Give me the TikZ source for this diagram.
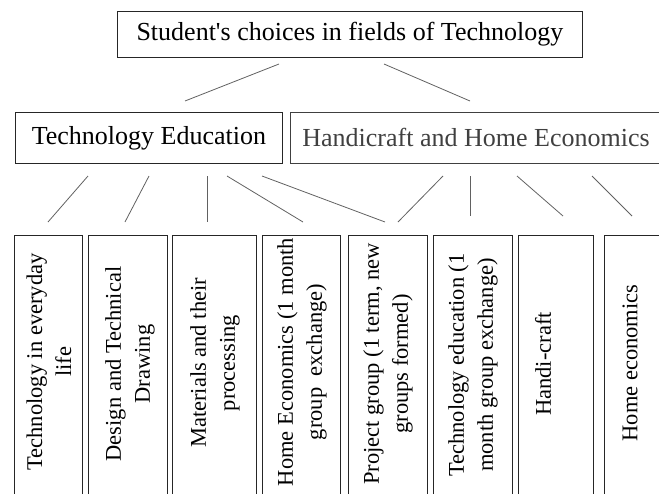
\documentclass[tikz,border=0pt]{standalone}
\usepackage{fontspec}
\setmainfont{Liberation Serif}
\begin{document}
\begin{tikzpicture}[x=1pt,y=-1pt,
  box/.style={draw=black!85, line width=0.8pt, inner sep=0pt, anchor=north west},
  head/.style={font=\fontsize{26}{30}\selectfont},
  cell/.style={box, minimum height=290pt},
  vlabel/.style={rotate=90, align=center, inner sep=0pt,
                 font=\fontsize{22.5}{29}\selectfont},
  link/.style={draw=black!62, line width=0.8pt}]
\useasboundingbox (0,0) rectangle (659,493);
\clip (0,0) rectangle (659,493);

% top level
\node[box, head, minimum width=465pt, minimum height=46pt] (root) at (117,11)
  {Student\textquotesingle s choices in fields of Technology};

% second level
\node[box, head, minimum width=267pt, minimum height=51pt] (te) at (15,112)
  {Technology Education};
\node[box, draw=black!75, minimum width=390pt, minimum height=51pt] (hhe) at (290,112) {};
\node[head, text=black!75] (hhelabel) at (476,137.5) {Handicraft and Home Economics};

% third level boxes
\node[cell, minimum width=68pt] (b1) at (14,235) {};
\node[cell, minimum width=79pt] (b2) at (88,235) {};
\node[cell, minimum width=84pt] (b3) at (172,235) {};
\node[cell, minimum width=78pt] (b4) at (262,235) {};
\node[cell, minimum width=79pt] (b5) at (348,235) {};
\node[cell, minimum width=79pt] (b6) at (433,235) {};
\node[cell, minimum width=75pt] (b7) at (518,235) {};
\node[cell, minimum width=80pt] (b8) at (604,235) {};

% third level labels
\node[vlabel] (t1) at (49,362)  {Technology in everyday\\life};
\node[vlabel] (t2) at (130,364) {Design and Technical\\Drawing};
\node[vlabel] (t3) at (215,363) {Materials and their\\processing};
\node[vlabel] (t4) at (302,362) {Home Economics (1 month\\group~~exchange)};
\node[vlabel] (t5) at (388,364) {Project group (1 term, new\\groups formed)};
\node[vlabel] (t6) at (473,365) {Technology education (1\\month group exchange)};
\node[vlabel] (t7) at (543,364) {Handi-craft};
\node[vlabel] (t8) at (630,363) {Home economics};

% connector end points
\coordinate (r1) at (279,64);  \coordinate (r1e) at (185,101);
\coordinate (r2) at (384,64);  \coordinate (r2e) at (470,101);
\coordinate (s1) at (88,176);  \coordinate (s1e) at (48,222);
\coordinate (s2) at (149,176); \coordinate (s2e) at (125,222);
\coordinate (s3) at (207,176); \coordinate (s3e) at (207,222);
\coordinate (s4) at (227,176); \coordinate (s4e) at (303,222);
\coordinate (s5) at (262,176); \coordinate (s5e) at (385,222);
\coordinate (h1) at (443,176); \coordinate (h1e) at (398,222);
\coordinate (h2) at (470,176); \coordinate (h2e) at (470,216);
\coordinate (h3) at (517,176); \coordinate (h3e) at (563,216);
\coordinate (h4) at (592,176); \coordinate (h4e) at (632,216);

% connectors
\draw[link] (r1) -- (r1e);
\draw[link] (r2) -- (r2e);
\draw[link] (s1) -- (s1e);
\draw[link] (s2) -- (s2e);
\draw[link] (s3) -- (s3e);
\draw[link] (s4) -- (s4e);
\draw[link] (s5) -- (s5e);
\draw[link] (h1) -- (h1e);
\draw[link] (h2) -- (h2e);
\draw[link] (h3) -- (h3e);
\draw[link] (h4) -- (h4e);
\end{tikzpicture}
\end{document}
